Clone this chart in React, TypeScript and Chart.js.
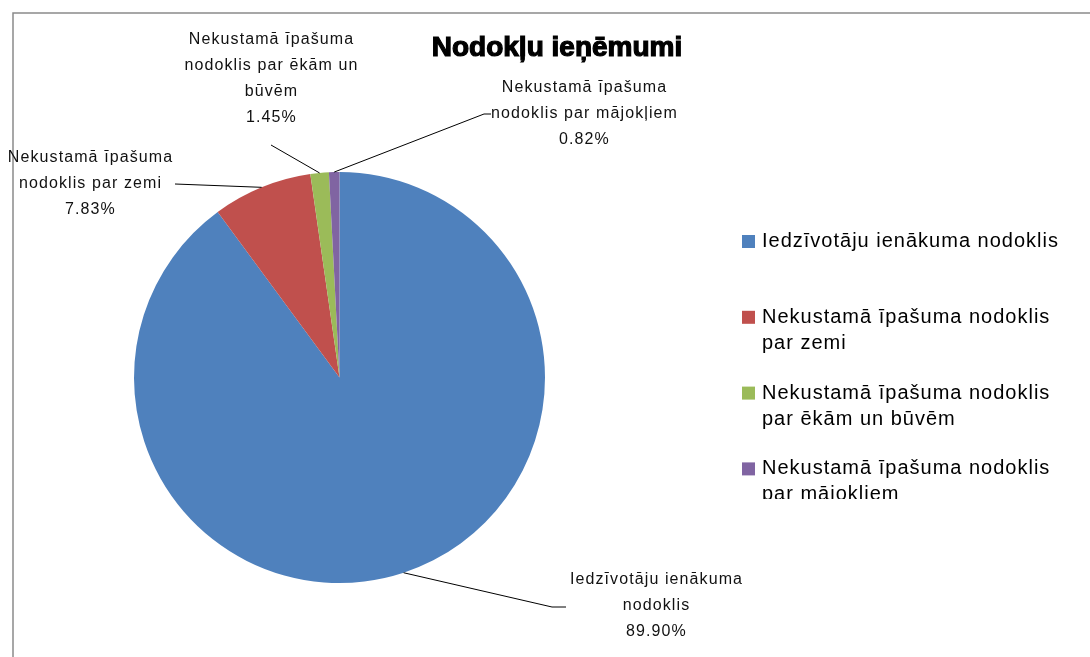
import React, { useEffect, useRef } from "react";
import { Chart, registerables } from "chart.js";

Chart.register(...registerables);

const title = "Nodokļu ieņēmumi";
const categories = [
  "Iedzīvotāju ienākuma nodoklis",
  "Nekustamā īpašuma nodoklis par zemi",
  "Nekustamā īpašuma nodoklis par ēkām un būvēm",
  "Nekustamā īpašuma nodoklis par mājokļiem",
];
const values = [89.9, 7.83, 1.45, 0.82];
const sliceLabelLines = [
  ["Iedzīvotāju ienākuma", "nodoklis"],
  ["Nekustamā īpašuma", "nodoklis par zemi"],
  ["Nekustamā īpašuma", "nodoklis par ēkām un", "būvēm"],
  ["Nekustamā īpašuma", "nodoklis par mājokļiem"],
];
const colors = ["#4F81BD", "#C0504D", "#9BBB59", "#8064A2"];

// layout of data labels (position of first text line centre, leader waypoints)
const labelLayout = [
  { x: 656, y: 580, path: [[552, 607], [566, 607]] },
  { x: 90, y: 158, path: [[175, 184]] },
  { x: 271, y: 40, path: [[271, 145]] },
  { x: 584, y: 88, path: [[484, 114], [491, 114]] },
];

const FONT = "'Liberation Sans', Arial, sans-serif";

const overlay = {
  id: "overlay",
  beforeDraw(chart: any) {
    const ctx = chart.ctx;
    ctx.save();
    ctx.fillStyle = "#ffffff";
    ctx.fillRect(0, 0, chart.width, chart.height);
    ctx.strokeStyle = "#8a8a8a";
    ctx.lineWidth = 1.5;
    ctx.beginPath();
    ctx.moveTo(13, chart.height + 2);
    ctx.lineTo(13, 13);
    ctx.lineTo(chart.width + 2, 13);
    ctx.stroke();
    ctx.restore();
  },
  afterDraw(chart: any) {
    const ctx = chart.ctx;
    const meta = chart.getDatasetMeta(0);
    const data = chart.data.datasets[0].data as number[];
    const total = data.reduce((a: number, b: number) => a + b, 0);
    ctx.save();

    // title
    ctx.font = `bold 28px ${FONT}`;
    ctx.fillStyle = "#000";
    ctx.strokeStyle = "#000";
    ctx.lineWidth = 1.2;
    ctx.textAlign = "center";
    ctx.textBaseline = "middle";
    ctx.fillText(title, 557, 48);
    ctx.strokeText(title, 557, 48);

    // leader lines + data labels
    meta.data.forEach((arc: any, i: number) => {
      const mid = (arc.startAngle + arc.endAngle) / 2;
      const sx = arc.x + Math.cos(mid) * arc.outerRadius;
      const sy = arc.y + Math.sin(mid) * arc.outerRadius;
      const lay = labelLayout[i];
      ctx.strokeStyle = "#000";
      ctx.lineWidth = 1;
      ctx.beginPath();
      ctx.moveTo(sx, sy);
      lay.path.forEach((p) => ctx.lineTo(p[0], p[1]));
      ctx.stroke();

      const lines = [...sliceLabelLines[i], ((data[i] / total) * 100).toFixed(2) + "%"];
      ctx.font = `16px ${FONT}`;
      (ctx as any).letterSpacing = "1.1px";
      ctx.fillStyle = "#111";
      ctx.textAlign = "center";
      ctx.textBaseline = "middle";
      lines.forEach((t, k) => ctx.fillText(t, lay.x + 0.5, lay.y + k * 25.7));
      (ctx as any).letterSpacing = "0px";
    });

    // legend
    ctx.beginPath();
    ctx.rect(700, 200, 390, 299);
    ctx.clip();
    ctx.font = `20px ${FONT}`;
    (ctx as any).letterSpacing = "1px";
    ctx.textAlign = "left";
    ctx.textBaseline = "middle";
    const maxW = 315;
    chart.data.labels.forEach((lab: string, i: number) => {
      const y0 = 241.5 + i * 75.8;
      ctx.fillStyle = colors[i];
      ctx.fillRect(742, y0 - 6.5, 13, 13);
      const words = lab.split(" ");
      const lines: string[] = [];
      let cur = "";
      words.forEach((w) => {
        const test = cur ? cur + " " + w : w;
        if (ctx.measureText(test).width > maxW && cur) {
          lines.push(cur);
          cur = w;
        } else cur = test;
      });
      if (cur) lines.push(cur);
      ctx.fillStyle = "#000";
      lines.forEach((t, k) => ctx.fillText(t, 762, y0 + k * 26));
    });
    ctx.restore();
  },
};

export default function App() {
  const ref = useRef<HTMLCanvasElement>(null);
  useEffect(() => {
    if (!ref.current) return;
    const chart = new Chart(ref.current, {
      type: "pie",
      data: {
        labels: categories,
        datasets: [
          {
            data: values,
            backgroundColor: colors,
            borderWidth: 0,
          },
        ],
      },
      options: {
        responsive: false,
        animation: false,
        devicePixelRatio: 1,
        layout: { padding: { top: 172, bottom: 74, left: 134, right: 545 } },
        plugins: {
          legend: { display: false },
          title: { display: false },
          tooltip: { enabled: false },
        },
      },
      plugins: [overlay],
    });
    return () => chart.destroy();
  }, []);
  return (
    <div style={{ position: "fixed", left: 0, top: 0, width: 1090, height: 657 }}>
      <canvas ref={ref} width={1090} height={657} />
    </div>
  );
}
